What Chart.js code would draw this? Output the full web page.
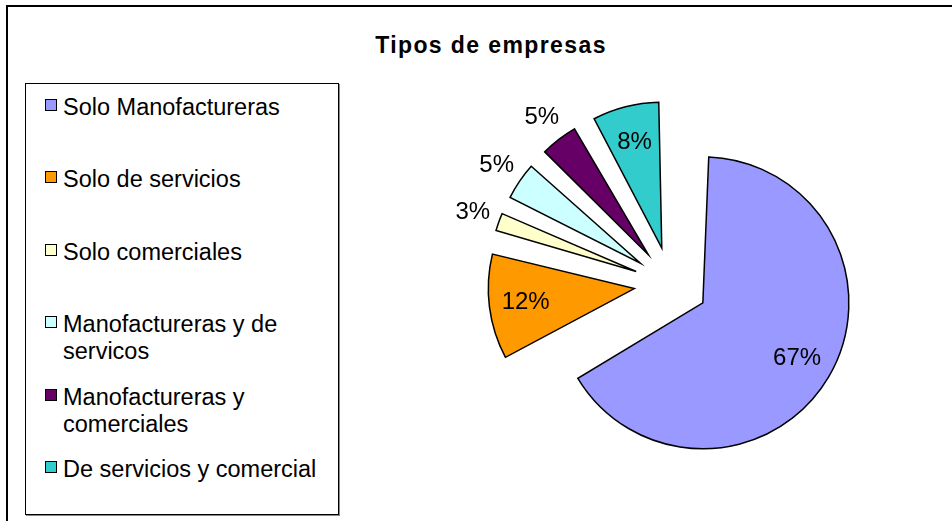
<!DOCTYPE html>
<html>
<head>
<meta charset="utf-8">
<script src="https://cdn.jsdelivr.net/npm/chart.js@4.4.1/dist/chart.umd.min.js"></script>
<style>
  html, body { margin: 0; padding: 0; background: #fff; overflow: hidden; }
  body { width: 952px; height: 521px; position: relative; font-family: "Liberation Sans", Arial, sans-serif; }
  #frame { position: absolute; left: 6px; top: 5px; width: 1000px; height: 600px; border: 2px solid #000; box-shadow: 0 1px 0 #777; }
  #title { position: absolute; left: 0; width: 982px; top: 32px; text-align: center; font-weight: bold; font-size: 23px; letter-spacing: 1.4px; color: #000; }
  #legend { position: absolute; left: 25px; top: 83px; width: 312px; height: 430px; border: 1.5px solid #000; box-shadow: 1px 1px 0 #888; }
  .entry { position: absolute; left: 37px; width: 272px; font-size: 23.5px; line-height: 27px; color: #000; }
  .swatch { position: absolute; left: -18px; top: 5px; width: 10px; height: 10px; border: 1.5px solid #000; }
  canvas { position: absolute; left: 0; top: 0; }
</style>
</head>
<body>
<div id="frame"></div>
<div id="title">Tipos de empresas</div>
<div id="legend"></div>
<canvas id="pieChart" width="952" height="521"></canvas>
<script>
// datos del gráfico
const categorias = [
    'Solo Manofactureras',
    'Solo de servicios',
    'Solo comerciales',
    'Manofactureras y de servicos',
    'Manofactureras y comerciales',
    'De servicios y comercial'
];
const porcentajes = [67, 12, 3, 5, 5, 8];
const colores = ['#9999FF', '#FF9900', '#FFFFCC', '#CCFFFF', '#660066', '#33CCCC'];

// leyenda en html (caja con borde, texto que se parte en dos líneas)
const legendEl = document.getElementById('legend');
categorias.forEach((cat, i) => {
    const row = document.createElement('div');
    row.className = 'entry';
    row.style.top = (10 + i * 72.4) + 'px';
    const sw = document.createElement('span');
    sw.className = 'swatch';
    sw.style.background = colores[i];
    row.appendChild(sw);
    row.appendChild(document.createTextNode(cat));
    legendEl.appendChild(row);
});

// Chart.js v4 mueve cada porción offset/4 pero también le suma al radio
// offset/4 * (1 - sin(ángulo)); se compensa para que todas queden con el mismo radio
const sameRadius = {
    id: 'sameRadius',
    beforeDatasetsDraw(chart) {
        const meta = chart.getDatasetMeta(0);
        const base = meta.controller.outerRadius;
        meta.data.forEach(arc => {
            const off = (arc.options.offset || 0) / 4;
            const c = arc.endAngle - arc.startAngle;
            const fix = 1 - Math.sin(Math.min(Math.PI, c));
            arc.outerRadius = base - off * fix;
        });
    }
};

// etiquetas de porcentaje: dentro de las porciones grandes, fuera de las pequeñas
const pctLabels = {
    id: 'pctLabels',
    afterDatasetsDraw(chart) {
        const ctx = chart.ctx;
        const meta = chart.getDatasetMeta(0);
        const R = meta.controller.outerRadius;
        const total = porcentajes.reduce((a, b) => a + b, 0);
        ctx.save();
        ctx.font = '24px "Liberation Sans", Arial, sans-serif';
        ctx.fillStyle = '#000';
        ctx.textAlign = 'center';
        ctx.textBaseline = 'middle';
        meta.data.forEach((arc, i) => {
            const mid = (arc.startAngle + arc.endAngle) / 2;
            const off = (arc.options.offset || 0) / 4;
            const pct = porcentajes[i] / total * 100;
            const r = off + R * (pct < 6 ? 1.19 : 0.75);
            ctx.fillText(Math.round(pct) + '%', arc.x + Math.cos(mid) * r, arc.y + Math.sin(mid) * r);
        });
        ctx.restore();
    }
};

new Chart(document.getElementById('pieChart'), {
    type: 'pie',
    data: {
        labels: categorias,
        datasets: [{
            data: porcentajes,
            backgroundColor: colores,
            borderColor: '#000',
            borderWidth: 1.5,
            borderJoinStyle: 'miter',
            offset: 148
        }]
    },
    options: {
        responsive: false,
        animation: false,
        radius: 146,
        layout: { padding: { left: 400, right: 10, top: 57, bottom: 10 } },
        plugins: {
            legend: { display: false },
            title: { display: false },
            tooltip: { enabled: false }
        }
    },
    plugins: [sameRadius, pctLabels]
});
</script>
</body>
</html>
